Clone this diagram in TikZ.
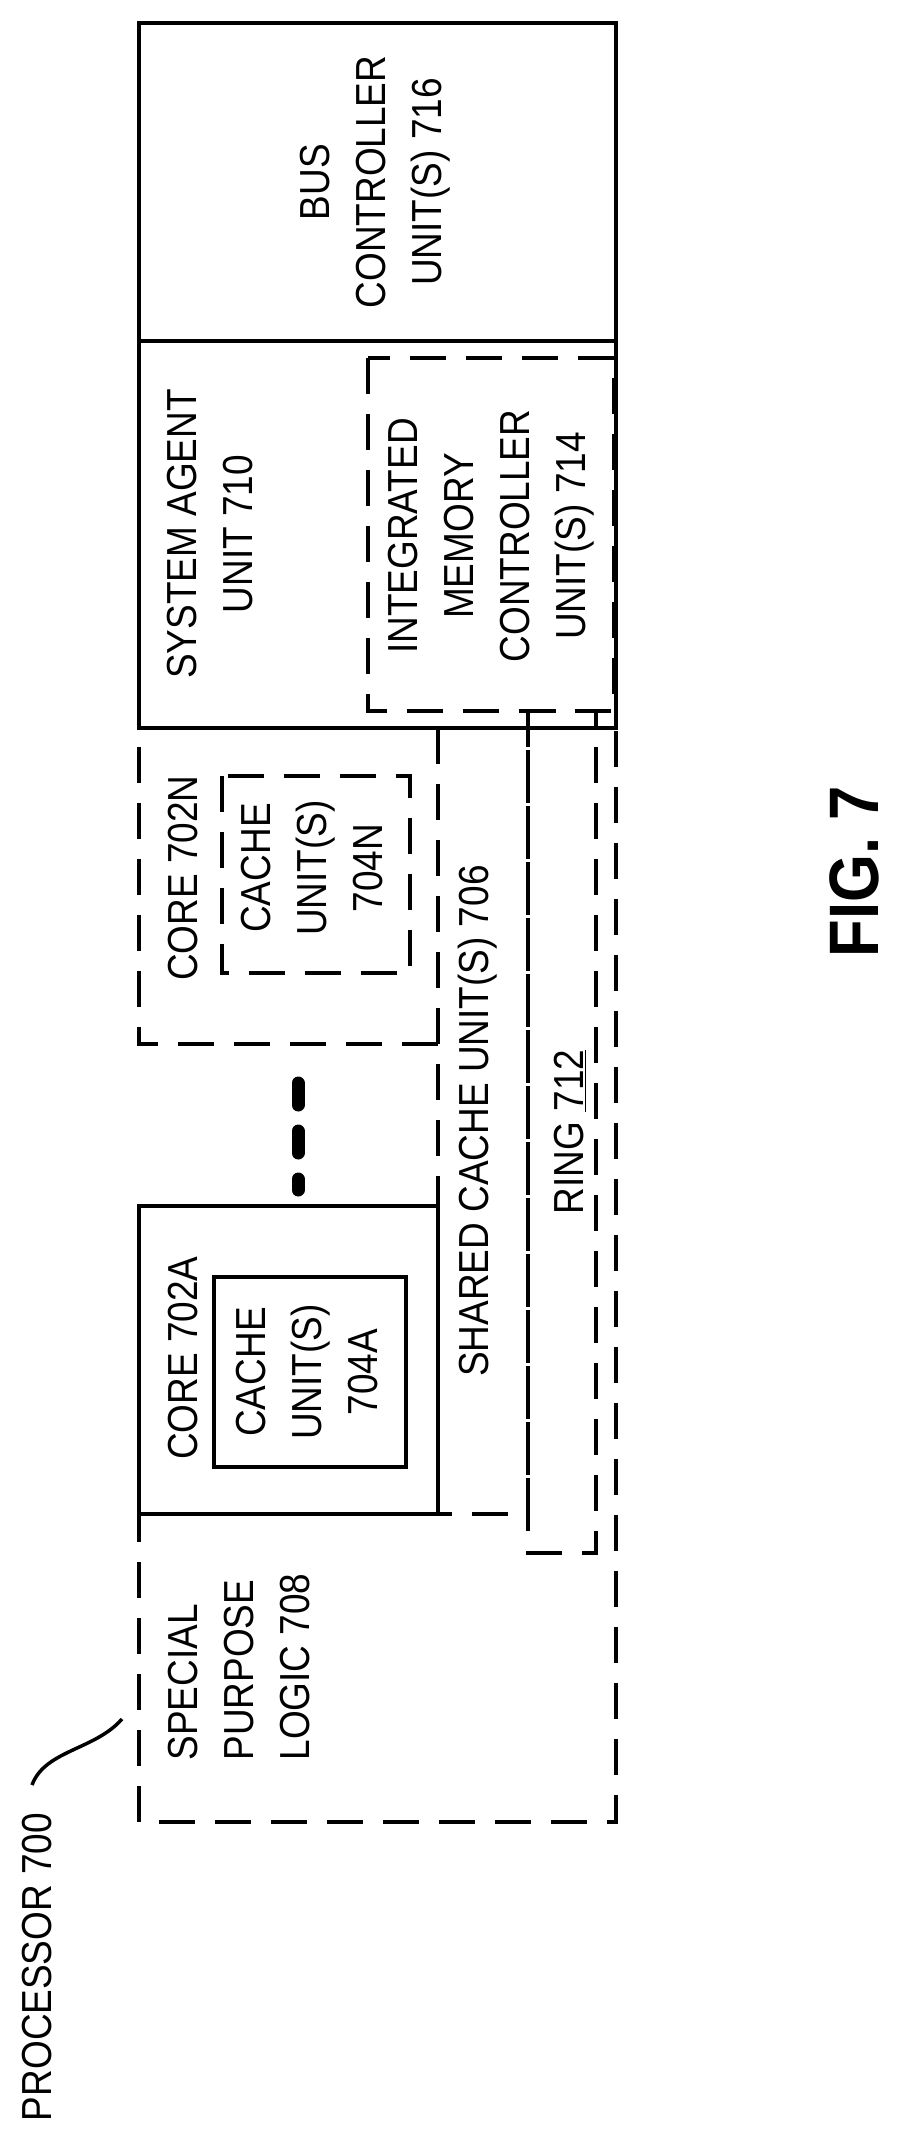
\documentclass[tikz,border=0pt]{standalone}
\usepackage{fontspec}
\setmainfont{Liberation Sans}[FakeStretch=0.88]
\begin{document}
\begin{tikzpicture}[x=1pt,y=-1pt,
  sol/.style={line width=4.5pt},
  dsh/.style={line width=4.5pt,dash pattern=on 36pt off 20pt},
  lbl/.style={rotate=90,font=\fontsize{42}{56}\selectfont,align=center,inner sep=0pt}]
\useasboundingbox (0,0) rectangle (898,2144);
% boxes
\draw[sol] (139,23) rectangle (616,341);
\draw[sol] (139,341) rectangle (616,728);
\draw[dsh] (368,358) rectangle (614,711);
\draw[dsh] (438,1044) -- (139,1044) -- (139,728) -- (438,728);
\draw[dsh] (222,776) rectangle (410,973);
\draw[dsh] (438,728) -- (438,1514);
\draw[dsh] (438,728) -- (528,728) -- (528,1514) -- (438,1514);
\draw[dsh] (528,711) rectangle (596,1553);
\draw[dsh] (616,731) -- (616,1822) -- (139,1822) -- (139,1514) -- (438,1514);
\draw[sol] (139,1206) rectangle (438,1514);
\draw[sol] (214,1277) rectangle (406,1467);
\draw[line width=13pt,dash pattern=on 22pt off 26pt,line cap=round] (298,1083) -- (298,1190);
% labels
\node[lbl] (bus) at (375,182) {BUS\\CONTROLLER\\UNIT(S) 716};
\node[lbl] (sa) at (210,534) {SYSTEM AGENT\\UNIT 710};
\node[lbl] (imc) at (491,536) {INTEGRATED\\MEMORY\\CONTROLLER\\UNIT(S) 714};
\node[lbl] (cn) at (183,878) {CORE 702N};
\node[lbl] (cun) at (312,868) {CACHE\\UNIT(S)\\704N};
\node[lbl] (sc) at (478,1121) {SHARED CACHE UNIT(S) 706};
\node[lbl] (ring) at (570,1132) {RING \underline{712}};
\node[lbl] (ca) at (183,1358) {CORE 702A};
\node[lbl] (cua) at (307,1372) {CACHE\\UNIT(S)\\704A};
\node[lbl,align=left] (sp) at (239,1667) {SPECIAL\\PURPOSE\\LOGIC 708};
\node[lbl] (proc) at (37,1967) {PROCESSOR 700};
\node[rotate=90,font=\fontsize{70}{80}\selectfont\bfseries,inner sep=0pt] (fig) at (854,872) {FIG. 7};
\draw[line width=3.5pt] (32,1785) .. controls (45,1750) and (95,1750) .. (122,1719);
\end{tikzpicture}
\end{document}
